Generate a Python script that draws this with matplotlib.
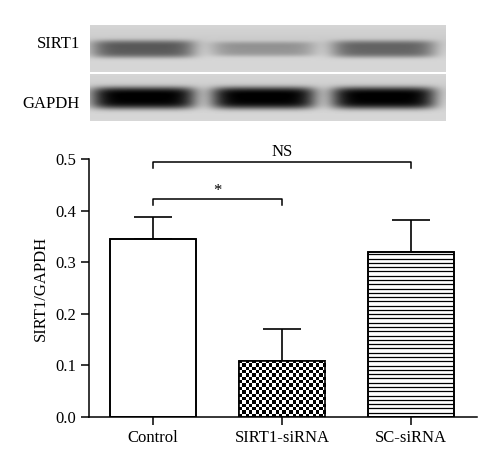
import numpy as np
import matplotlib
matplotlib.use('Agg')
import matplotlib.pyplot as plt

plt.rcParams['font.family'] = ['Liberation Serif', 'DejaVu Serif']

groups = ['Control', 'SIRT1-siRNA', 'SC-siRNA']
ratio = [0.345, 0.109, 0.320]
sem = [0.043, 0.062, 0.062]
# band darkness in the blot (0 = none, 1 = black)
sirt1_band = [0.55, 0.28, 0.50]
gapdh_band = [0.97, 0.97, 0.97]

fig = plt.figure(figsize=(5, 4.67), dpi=100)

# ---- western blot strips ----
def strip(levels, h=47, w=356, width=52.0):
    yy, xx = np.mgrid[0:h, 0:w]
    img = np.full((h, w), 0.84)
    img -= 0.04 * np.exp(-((yy - h * 0.35) / 12.0) ** 2)
    centers = [53, 173, 293]
    for c, lv in zip(centers, levels):
        band = np.exp(-((yy - h * 0.5) / (6 + 5 * lv)) ** 4) * np.exp(-((xx - c) / width) ** 6)
        img -= lv * 0.84 * band
    return np.clip(img, 0, 1)

for (y0, levels, name, ly) in [(25, sirt1_band, 'SIRT1', 44), (74, gapdh_band, 'GAPDH', 104)]:
    bax = fig.add_axes([90 / 500, 1 - (y0 + 47) / 467, 356 / 500, 47 / 467])
    bax.imshow(strip(levels), cmap='gray', vmin=0, vmax=1, aspect='auto', interpolation='bilinear')
    bax.axis('off')
    fig.text(80 / 500, 1 - ly / 467, name, ha='right', va='center', fontsize=12)

# ---- bar chart ----
ax = fig.add_axes([89 / 500, 1 - 417 / 467, 388 / 500, 258 / 467])
x = np.arange(len(groups))
w = 0.667
bars = ax.bar(x, ratio, width=w, color='white', edgecolor='black', linewidth=1.2, zorder=2)
ax.errorbar(x, ratio, yerr=[np.zeros(3), sem], fmt='none', ecolor='black',
            elinewidth=1.2, capsize=14, capthick=1.2, zorder=1)

# checkerboard fill for SIRT1-siRNA
ny, nx = 17, 26
chk = (np.indices((ny, nx)).sum(axis=0) % 2).astype(float)
im = ax.imshow(chk, cmap='gray', extent=[x[1] - w / 2, x[1] + w / 2, 0, ratio[1]],
               aspect='auto', interpolation='nearest', zorder=2.5)
im.set_clip_path(bars[1])

# horizontal line fill for SC-siRNA
ys = np.arange(0.0083, ratio[2], 0.0083)
ax.hlines(ys, x[2] - w / 2, x[2] + w / 2, color='black', linewidth=0.9, zorder=2.5)
ax.bar(x, ratio, width=w, color='none', edgecolor='black', linewidth=1.2, zorder=3)

# significance brackets
def bracket(a, b, y, drop, label, ty):
    ax.plot([x[a], x[a], x[b], x[b]], [y - drop, y, y, y - drop], color='black', lw=1.1, clip_on=False)
    ax.text((x[a] + x[b]) / 2, ty, label, ha='center', va='center', fontsize=12)

bracket(0, 2, 0.494, 0.011, 'NS', 0.514)
bracket(0, 1, 0.422, 0.011, '*', 0.438)

ax.set_xlim(-0.496, 2.51)
ax.set_ylim(0, 0.5)
ax.set_yticks(np.arange(0, 0.51, 0.1))
ax.set_yticklabels([f'{v:.1f}' for v in np.arange(0, 0.51, 0.1)])
ax.set_xticks(x)
ax.set_xticklabels(groups)
ax.set_ylabel('SIRT1/GAPDH', fontsize=12)
ax.tick_params(labelsize=12, width=1.1, length=6)
for s in ['top', 'right']:
    ax.spines[s].set_visible(False)
for s in ['left', 'bottom']:
    ax.spines[s].set_linewidth(1.1)

fig.savefig('out.png', dpi=100)
